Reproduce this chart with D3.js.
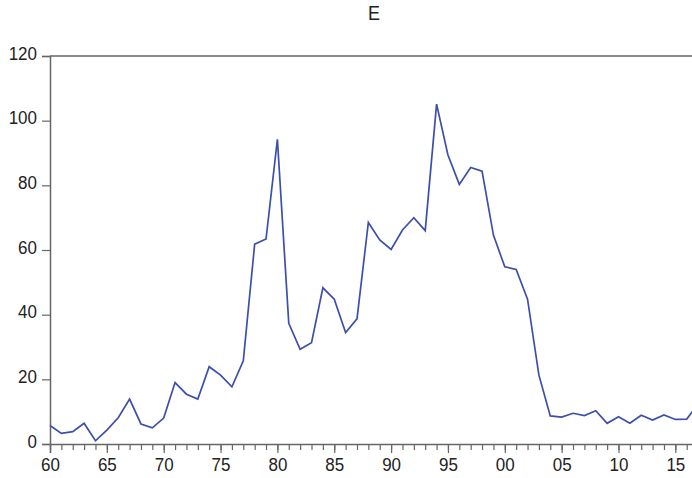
<!DOCTYPE html>
<html>
<head>
<meta charset="utf-8">
<script src="https://cdn.jsdelivr.net/npm/d3@7"></script>
<style>
  body { margin: 0; background: #fff; }
  text { font-family: "Liberation Sans", Arial, sans-serif; fill: #222; }
</style>
</head>
<body>
<div id="wrap"></div>
<script>
// annual series E, 1960-2017
var years = d3.range(1960, 2018);
var values = [5.7, 3.3, 3.8, 6.4, 1.0, 4.3, 8.1, 13.9, 6.2, 5.0,
              8.0, 19.0, 15.4, 13.9, 23.9, 21.3, 17.7, 25.7, 61.8, 63.4,
              94.2, 37.3, 29.3, 31.3, 48.3, 44.8, 34.5, 38.7, 68.5, 63.1,
              60.2, 66.2, 70.0, 66.0, 105.1, 89.4, 80.3, 85.5, 84.4, 64.6,
              54.8, 54.0, 44.8, 21.3, 8.7, 8.3, 9.5, 8.8, 10.3, 6.4,
              8.4, 6.4, 8.9, 7.4, 9.0, 7.6, 7.7, 12.3];
var yTicks = [0, 20, 40, 60, 80, 100, 120];
var xMajor = [1960, 1965, 1970, 1975, 1980, 1985, 1990, 1995, 2000, 2005, 2010, 2015];
var title = "E";

var width = 692, height = 478;
var margin = {top: 56, left: 50, bottom: 34};
var stretch = 1.12; // text in the original looks slightly tall

var svg = d3.select('#wrap').append('svg')
  .attr('width', width)
  .attr('height', height);

//scales
var x = d3.scaleLinear().domain([1960, 2018]).range([margin.left, margin.left + 58 * 11.37]);
var y = d3.scaleLinear().domain([0, 120]).range([height - margin.bottom, margin.top]);

var axisColor = '#666';

//title
svg.append('text')
  .attr('transform', 'translate(374,20) scale(1,' + stretch + ')')
  .attr('text-anchor', 'middle')
  .style('font-size', '18px')
  .text(title);

//top frame line
svg.append('line')
  .attr('x1', x.range()[0]).attr('x2', x.range()[1])
  .attr('y1', y(120)).attr('y2', y(120))
  .style('stroke', axisColor).style('stroke-width', 1.5);

//y axis
var yAxis = d3.axisLeft(y).tickValues(yTicks).tickSize(8).tickPadding(5);
var gy = svg.append('g')
  .attr('transform', 'translate(' + margin.left + ',0)')
  .call(yAxis);
gy.select('.domain').style('stroke', axisColor).style('stroke-width', 1.5);
gy.selectAll('.tick line').style('stroke', axisColor).style('stroke-width', 1.2);
gy.selectAll('.tick text')
  .style('font-size', '17px')
  .style('font-family', '"Liberation Sans", Arial, sans-serif')
  .attr('fill', '#222')
  .attr('dy', '0.16em')
  .attr('transform', 'scale(1,' + stretch + ')');

//x axis: minor ticks every year
var gxMinor = svg.append('g')
  .attr('transform', 'translate(0,' + y(0) + ')')
  .call(d3.axisBottom(x).tickValues(years).tickSize(6).tickFormat(''));
gxMinor.select('.domain').remove();
gxMinor.selectAll('.tick line').style('stroke', axisColor).style('stroke-width', 1.2);

var gx = svg.append('g')
  .attr('transform', 'translate(0,' + y(0) + ')')
  .call(d3.axisBottom(x).tickValues(xMajor).tickSize(9).tickPadding(4)
    .tickFormat(function(d) { return d3.format('02d')(d % 100); }));
gx.select('.domain').style('stroke', axisColor).style('stroke-width', 1.5);
gx.selectAll('.tick line').style('stroke', axisColor).style('stroke-width', 1.2);
gx.selectAll('.tick text')
  .style('font-size', '17px')
  .style('font-family', '"Liberation Sans", Arial, sans-serif')
  .attr('fill', '#222')
  .attr('y', 13 / stretch)
  .attr('transform', 'scale(1,' + stretch + ')');

//series line
var line = d3.line()
  .x(function(d, i) { return x(years[i]); })
  .y(function(d) { return y(d); });

svg.append('path')
  .datum(values)
  .attr('d', line)
  .style('fill', 'none')
  .style('stroke', '#3c4fac')
  .style('stroke-width', 1.7)
  .style('stroke-linejoin', 'miter');
</script>
</body>
</html>
